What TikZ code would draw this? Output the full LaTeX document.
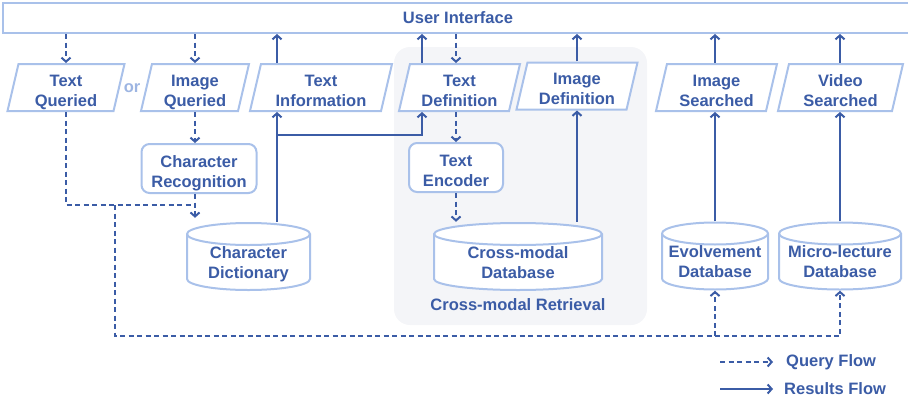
\documentclass[tikz,border=0pt]{standalone}
\usepackage{fontspec}
\setmainfont{Liberation Sans}
\usetikzlibrary{arrows.meta,shapes.geometric}
\definecolor{RetrievalInk}{HTML}{3B5CA6}
\definecolor{RetrievalEdge}{HTML}{A9C1EA}
\definecolor{RetrievalPanel}{HTML}{F4F5F8}
\definecolor{RetrievalOr}{HTML}{9DB5E2}

\begin{document}
\begin{tikzpicture}[x=1pt,y=-1pt,
    boxtext/.style={font=\fontsize{16.5}{20}\selectfont\bfseries,
      text=RetrievalInk,align=center},
    twolines/.style={boxtext,
      execute at begin node={\rule{0pt}{40.5pt}},
      execute at end node={\rule[-3.5pt]{0pt}{3.5pt}}},
    edgeline/.style={draw=RetrievalEdge,line width=2pt},
    iobox/.style={twolines,edgeline,trapezium,trapezium left angle=76,
      trapezium right angle=104,trapezium stretches body,fill=white,
      inner sep=0pt,minimum height=47},
    procbox/.style={twolines,edgeline,rectangle,rounded corners=8pt,
      fill=white,inner sep=0pt,minimum height=49},
    storebox/.style={boxtext,
      execute at begin node={\rule{0pt}{46.5pt}},
      execute at end node={\rule[-3.5pt]{0pt}{3.5pt}},
      inner sep=0pt,minimum width=#1,minimum height=69,
      path picture={
        \path[edgeline,fill=white]
          ([shift={(1pt,-12pt)}]path picture bounding box.north west)
          -- ([shift={(1pt,12pt)}]path picture bounding box.south west)
          arc[start angle=180,end angle=360,x radius=#1/2*1pt-1pt,y radius=11pt]
          -- ([shift={(-1pt,-12pt)}]path picture bounding box.north east)
          arc[start angle=0,end angle=180,x radius=#1/2*1pt-1pt,y radius=11pt]
          -- cycle;
        \draw[edgeline]
          ([shift={(1pt,-12pt)}]path picture bounding box.north west)
          arc[start angle=180,end angle=360,x radius=#1/2*1pt-1pt,y radius=11pt];
      }},
    result/.style={-{Straight Barb[length=4pt,width=9pt]},
      RetrievalInk,line width=2pt},
    query/.style={result,dash pattern=on 5pt off 3.5pt}]

        \useasboundingbox (0,0) rectangle (908,402);

        % cross-modal panel
        \node[fill=RetrievalPanel,rounded corners=16pt,
          minimum width=253,minimum height=278] (panel) at (520.5,186) {};
        \node[boxtext] (paneltext) at (518,305) {Cross-modal Retrieval};

        \node[boxtext,edgeline,
          minimum width=910,minimum height=30] (ui) at (458,18) {User Interface};

        \node[iobox,minimum width=117] (tq) at (66,87.5) {Text\\Queried};
        \node[boxtext,text=RetrievalOr] (or) at (132,88) {or};
        \node[iobox,minimum width=108] (iq) at (195,87.5) {Image\\Queried};
        \node[iobox,minimum width=142] (ti) at (321,87.5) {Text\\Information};
        \node[iobox,minimum width=121] (td) at (459.5,87.5) {Text\\Definition};
        \node[iobox,minimum width=121] (id) at (577,86) {Image\\Definition};
        \node[iobox,minimum width=121] (is) at (716.5,87.5) {Image\\Searched};
        \node[iobox,minimum width=125] (vs) at (840.5,87.5) {Video\\Searched};

        \node[procbox,minimum width=115] (cr) at (199,168.5) {Character\\Recognition};
        \node[procbox,minimum width=94] (te) at (456,167.5) {Text\\Encoder};

        \node[storebox=125] (cd) at (248.5,256.5) {Character\\Dictionary};
        \node[storebox=170] (cmdb) at (518,256.5) {Cross-modal\\Database};
        \node[storebox=108] (ed) at (715,256) {Evolvement\\Database};
        \node[storebox=124] (mld) at (840,256) {Micro-lecture\\Database};

        \coordinate (dictup) at (277,135);
        \coordinate (defup) at (422,135);
        \coordinate (qjoin) at (195,205);
        \coordinate (qsplit) at (115,205);
        \coordinate (qcorner) at (115,336);

        % query flow
        \draw[query] (ui.south -| tq) -- (tq.north -| tq);
        \draw[query] (ui.south -| iq) -- (iq.north -| iq);
        \draw[query] (iq.south -| iq) -- (cr.north -| iq);
        \draw[query,-] (tq.south -| tq) |- (qjoin);
        \draw[query,shorten >=4pt] (cr.south -| qjoin) -- (cd.north -| qjoin);
        \draw[query] (ui.south -| te) -- (td.north -| te);
        \draw[query] (td.south -| te) -- (te.north);
        \draw[query] (te.south) -- (cmdb.north -| te);
        \draw[query] (qsplit) -- (qcorner) -| (mld.south);
        \draw[query] (ed.south |- qcorner) -- (ed.south);

        % results flow
        \draw[result] (cd.north -| dictup) -- (ti.south -| dictup);
        \draw[result] (ti.north -| dictup) -- (ui.south -| dictup);
        \draw[result] (dictup) -- (defup) -- (td.south -| defup);
        \draw[result] (td.north -| defup) -- (ui.south -| defup);
        \draw[result] (cmdb.north -| id) -- (id.south -| id);
        \draw[result] (id.north -| id) -- (ui.south -| id);
        \draw[result] (ed.north) -- (is.south -| ed.north);
        \draw[result] (is.north -| ed.north) -- (ui.south -| ed.north);
        \draw[result] (mld.north) -- (vs.south -| mld.north);
        \draw[result] (vs.north -| mld.north) -- (ui.south -| mld.north);

        % legend
        \node[boxtext,anchor=west,inner xsep=0pt] (qflow) at (786,362) {Query Flow};
        \node[boxtext,anchor=west,inner xsep=0pt] (rflow) at (784,389) {Results Flow};
        \coordinate (qleg) at (720,362);
        \coordinate (rleg) at (720,389);
        \draw[query] (qleg) -- ([xshift=-13pt]qflow.west);
        \draw[result] (rleg) -- ([xshift=-11pt]rflow.west);

\end{tikzpicture}
\end{document}
